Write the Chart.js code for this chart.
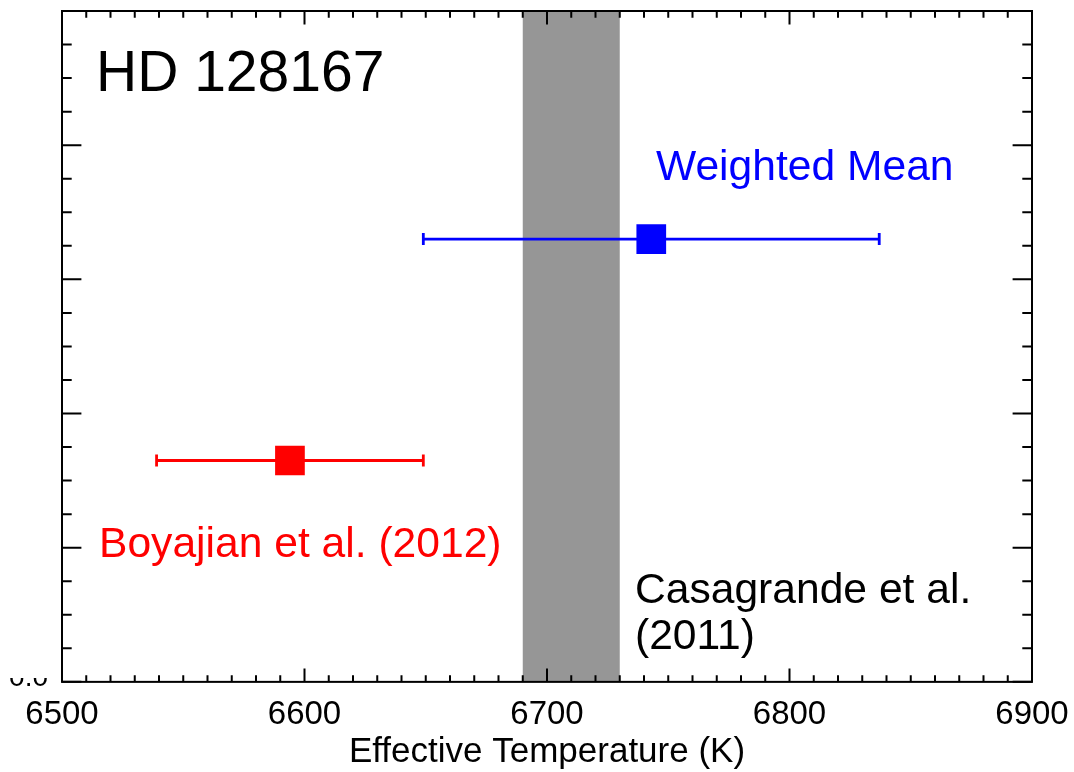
<!DOCTYPE html>
<html>
<head>
<meta charset="utf-8">
<script src="https://cdn.jsdelivr.net/npm/chart.js@4.4.1/dist/chart.umd.min.js"></script>
<style>
  html, body { margin: 0; padding: 0; background: #ffffff; }
  #wrap { width: 1074px; height: 772px; }
</style>
</head>
<body>
<div id="wrap"><canvas id="c" width="1074" height="772"></canvas></div>
<script>
// Effective temperature estimates for HD 128167
const sources = ['Boyajian et al. (2012)', 'Weighted Mean'];
const teff = [6594, 6743];
const teffErr = [55, 94];
const rowY = [0.33, 0.66];
const colors = ['#ff0000', '#0000ff'];

// Casagrande et al. (2011) temperature range (shaded band)
const casagrandeRange = [6690, 6730];
const casagrandeLabel = ['Casagrande et al.', '(2011)'];

const starName = 'HD 128167';
const xTickValues = [6500, 6600, 6700, 6800, 6900];
const xAxisTitle = 'Effective Temperature (K)';

const FONT = "'Liberation Sans', Arial, Helvetica, sans-serif";
Chart.defaults.font.family = FONT;

// Build datasets: an error bar (line with vertical caps) and a square marker per source
const datasets = [];
sources.forEach((name, i) => {
  datasets.push({
    type: 'line',
    label: name + ' error',
    data: [{ x: teff[i] - teffErr[i], y: rowY[i] }, { x: teff[i] + teffErr[i], y: rowY[i] }],
    borderColor: colors[i],
    borderWidth: 2.8,
    showLine: true,
    fill: false,
    pointStyle: 'line',
    rotation: 90,
    pointRadius: 6,
    pointBorderWidth: 2.8,
    pointBorderColor: colors[i],
    pointHoverRadius: 6
  });
  datasets.push({
    type: 'scatter',
    label: name,
    data: [{ x: teff[i], y: rowY[i] }],
    pointStyle: 'rect',
    pointRadius: 21,
    pointHoverRadius: 21,
    backgroundColor: colors[i],
    borderColor: colors[i],
    borderWidth: 0
  });
});

// Shaded temperature band behind the data
const bandPlugin = {
  id: 'band',
  beforeDatasetsDraw(chart) {
    const { ctx, chartArea: a, scales: { x } } = chart;
    const x0 = x.getPixelForValue(casagrandeRange[0]);
    const x1 = x.getPixelForValue(casagrandeRange[1]);
    ctx.save();
    ctx.fillStyle = '#969696';
    ctx.fillRect(x0, a.top, x1 - x0, a.bottom - a.top);
    ctx.restore();
  }
};

// Box frame with inward-pointing major/minor ticks on all four sides
const framePlugin = {
  id: 'frame',
  afterDatasetsDraw(chart) {
    const { ctx, chartArea: a, scales: { x, y } } = chart;
    const w = a.right - a.left, h = a.bottom - a.top;
    const yMajor = 0.02 * w, yMinor = yMajor / 2;
    const xMajor = 0.02 * h, xMinor = xMajor / 2;
    ctx.save();
    ctx.strokeStyle = '#000000';
    ctx.lineWidth = 2;
    ctx.beginPath();
    for (let v = x.min; v <= x.max; v += 10) {
      const px = x.getPixelForValue(v);
      const len = (Math.round(v) % 100 === 0) ? xMajor : xMinor;
      ctx.moveTo(px, a.bottom); ctx.lineTo(px, a.bottom - len);
      ctx.moveTo(px, a.top); ctx.lineTo(px, a.top + len);
    }
    for (let k = 0; k <= 20; k++) {
      const py = y.getPixelForValue(k * 0.05);
      const len = (k % 4 === 0) ? yMajor : yMinor;
      ctx.moveTo(a.left, py); ctx.lineTo(a.left + len, py);
      ctx.moveTo(a.right, py); ctx.lineTo(a.right - len, py);
    }
    ctx.stroke();
    ctx.strokeRect(a.left, a.top, w, h);
    ctx.restore();
  },
  afterDraw(chart) {
    const { ctx, chartArea: a } = chart;
    ctx.save();
    ctx.textAlign = 'left';
    ctx.textBaseline = 'alphabetic';

    ctx.fillStyle = '#000000';
    ctx.font = '57px ' + FONT;
    ctx.fillText(starName, a.left + 34, 91);

    ctx.fillStyle = colors[1];
    ctx.font = '42.6px ' + FONT;
    ctx.fillText(sources[1], 656, 180);

    ctx.fillStyle = colors[0];
    ctx.fillText(sources[0], 99, 557);

    ctx.fillStyle = '#000000';
    ctx.fillText(casagrandeLabel[0], 635, 603);
    ctx.fillText(casagrandeLabel[1], 635, 649);

    // partially hidden y-axis zero label at the lower-left corner
    ctx.beginPath();
    ctx.rect(0, 678, a.left - 4, 8);
    ctx.clip();
    ctx.textAlign = 'right';
    ctx.font = '28px ' + FONT;
    ctx.fillText('0.0', 48, 686);
    ctx.restore();
  }
};

new Chart(document.getElementById('c'), {
  data: { datasets },
  options: {
    responsive: false,
    animation: false,
    events: [],
    layout: { autoPadding: false, padding: { left: 62, right: 42, top: 11, bottom: 0 } },
    plugins: {
      legend: { display: false },
      tooltip: { enabled: false },
      title: { display: false }
    },
    scales: {
      x: {
        type: 'linear',
        min: 6500,
        max: 6900,
        grid: { display: false, drawTicks: false },
        border: { display: false },
        afterBuildTicks(scale) {
          scale.ticks = xTickValues.map(v => ({ value: v }));
        },
        ticks: {
          padding: 4,
          color: '#000000',
          font: { size: 33, lineHeight: 1.76 },
          autoSkip: false,
          maxRotation: 0,
          callback: v => String(v)
        },
        title: {
          display: true,
          text: xAxisTitle,
          color: '#000000',
          font: { size: 35, lineHeight: 0.23 },
          padding: { top: 0, bottom: 16 }
        }
      },
      y: {
        type: 'linear',
        min: 0,
        max: 1,
        display: false
      }
    }
  },
  plugins: [bandPlugin, framePlugin]
});
</script>
</body>
</html>
